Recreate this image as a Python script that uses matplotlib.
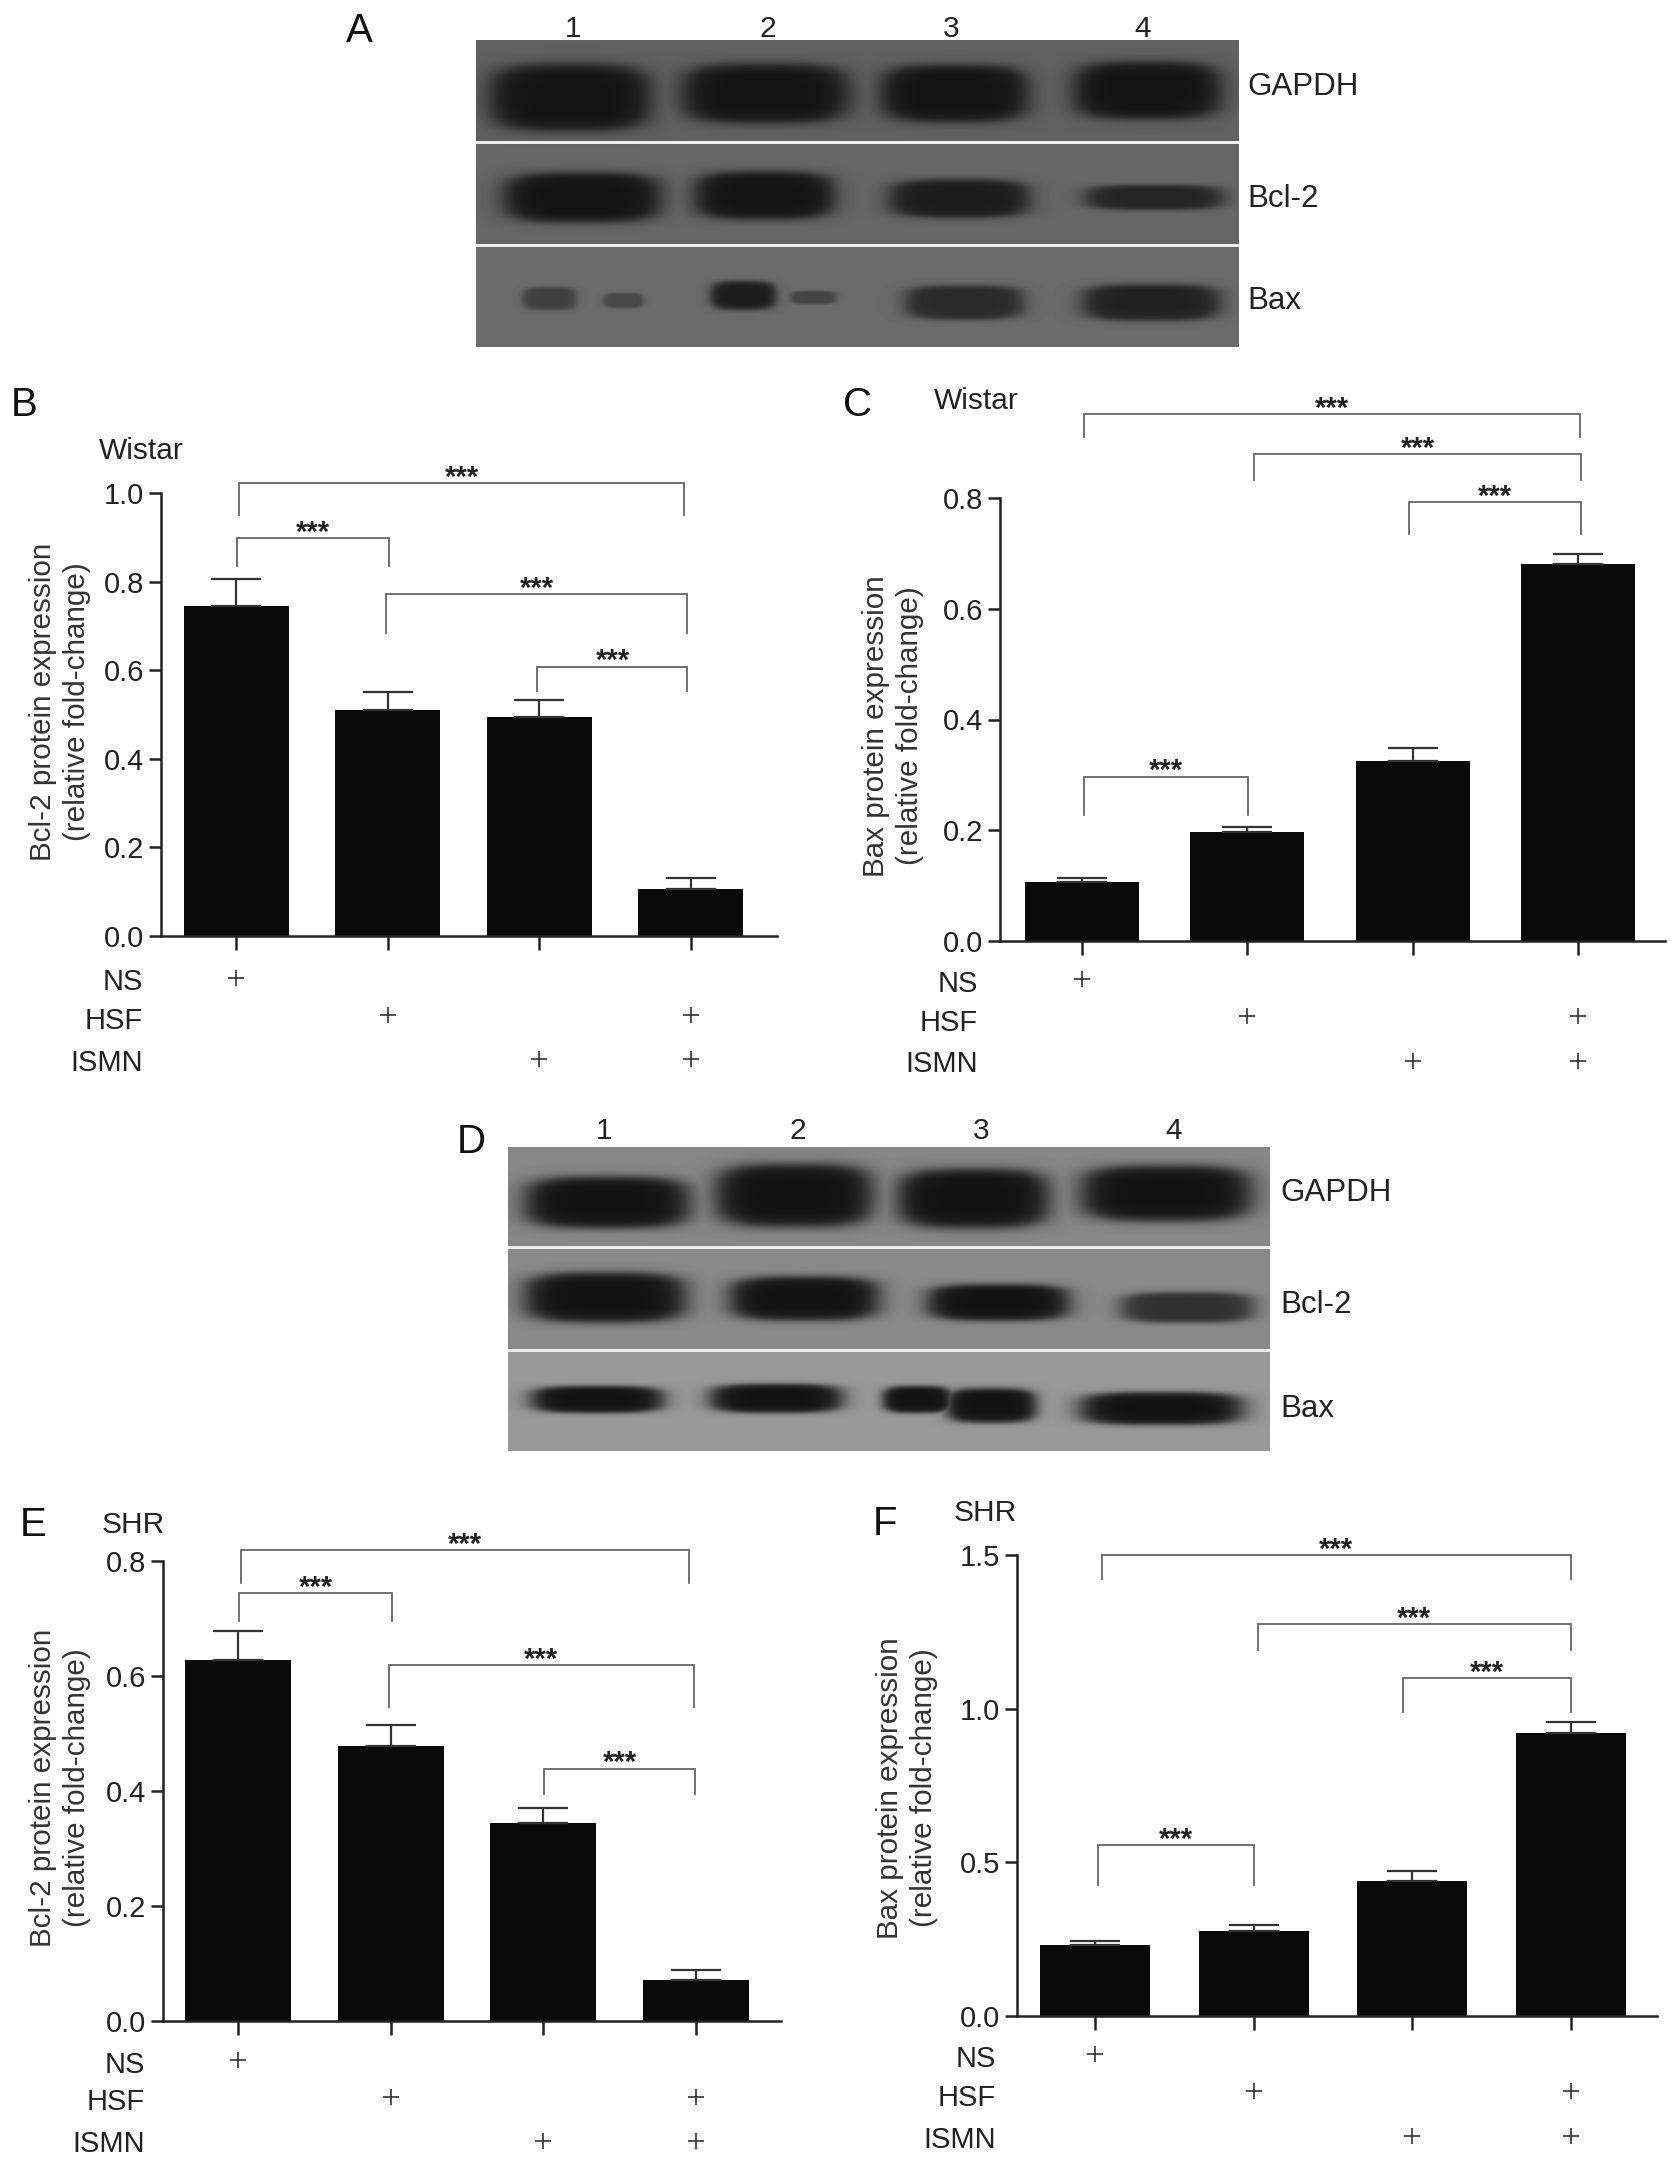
import matplotlib
matplotlib.use("Agg")
import matplotlib.pyplot as plt
import numpy as np

W = 1677
H = 2166

plt.rcParams["font.family"] = ["Liberation Sans", "DejaVu Sans"]

# bar values and top of the error bars
b_vals = [0.745, 0.51, 0.495, 0.105]
b_tops = [0.805, 0.55, 0.533, 0.13]
c_vals = [0.106, 0.196, 0.325, 0.68]
c_tops = [0.113, 0.205, 0.349, 0.698]
e_vals = [0.628, 0.479, 0.345, 0.071]
e_tops = [0.678, 0.515, 0.370, 0.088]
f_vals = [0.231, 0.278, 0.438, 0.922]
f_tops = [0.245, 0.296, 0.471, 0.956]

# significance brackets: x start, x end, y of the line, y of the leg ends
b_brackets = [(0.02, 2.96, 1.023, 0.950), (0.007, 1.01, 0.898, 0.835),
              (0.993, 2.98, 0.772, 0.683), (1.99, 2.98, 0.608, 0.552)]
c_brackets = [(0.016, 3.01, 0.951, 0.910), (1.045, 3.02, 0.880, 0.833),
              (1.98, 3.02, 0.793, 0.735), (0.016, 1.005, 0.297, 0.227)]
e_brackets = [(0.02, 2.953, 0.819, 0.762), (0.007, 1.008, 0.744, 0.695),
              (0.991, 2.983, 0.619, 0.546), (2.005, 2.996, 0.439, 0.394)]
f_brackets = [(0.043, 3.0, 1.499, 1.422), (1.03, 3.0, 1.275, 1.19),
              (1.943, 3.0, 1.10, 0.988), (0.017, 1.003, 0.556, 0.425)]

row_names = ["NS", "HSF", "ISMN"]
row_flags = [[1, 0, 0, 0], [0, 1, 0, 1], [0, 0, 1, 1]]
lanes = ["1", "2", "3", "4"]
blot_names = ["GAPDH", "Bcl-2", "Bax"]

# blot bands: centre x, centre y, half width, half height, darkness (figure pixels)
a_bands = [(570, 97, 84, 35, 1), (765, 93, 87, 31, 1), (954, 93, 77, 30, 1), (1147, 90, 77, 30, 1),
           (582, 197, 82, 26, 1), (764, 195, 73, 25, 1), (959, 198, 73, 20, 0.9), (1154, 197, 72, 13, 0.8),
           (549, 298, 28, 12, 0.5), (623, 300, 21, 8, 0.4), (743, 295, 34, 15, 0.9), (813, 297, 24, 7, 0.45),
           (964, 302, 62, 18, 0.75), (1151, 302, 72, 19, 0.85)]
d_bands = [(607, 1202, 86, 27, 1), (794, 1195, 82, 33, 1), (973, 1198, 79, 31, 1), (1166, 1193, 89, 29, 1),
           (605, 1297, 84, 26, 1), (804, 1298, 78, 23, 1), (998, 1302, 74, 19, 1), (1187, 1307, 69, 16, 0.75),
           (597, 1399, 69, 14, 1), (776, 1398, 69, 15, 1), (917, 1399, 36, 14, 1), (991, 1405, 47, 18, 1),
           (1161, 1408, 85, 17, 1)]


def px_text(x, y, s, **kw):
    fig.text(x / W, 1 - y / H, s, **kw)


def draw_blot(left, right, top, seps, bottom, bands, bgs):
    ax = fig.add_axes([left / W, 1 - bottom / H, (right - left) / W, (bottom - top) / H])
    xx, yy = np.meshgrid(np.arange(left, right), np.arange(top, bottom))
    img = np.full(xx.shape, bgs[0], dtype=float)
    img[yy >= seps[0]] = bgs[1]
    img[yy >= seps[1]] = bgs[2]
    dark = np.zeros(xx.shape)
    for cx, cy, hw, hh, k in bands:
        d = (np.abs((xx - cx) / hw) ** 3.5 + np.abs((yy - cy) / hh) ** 3.5) ** (1 / 3.5)
        dark = np.maximum(dark, k / (1 + np.exp((d - 0.95) * 11)))
    img = img + (0.08 - img) * dark
    for s in seps:
        img[np.abs(yy - s) <= 1.5] = 0.93
    ax.imshow(img, cmap="gray", vmin=0, vmax=1, aspect="auto")
    ax.axis("off")


def draw_panel(vals, tops, brackets, ymax, yticks, left, right, top, bottom, c0, step, barw, rows, marks, label_x):
    ax = fig.add_axes([left / W, 1 - bottom / H, (right - left) / W, (bottom - top) / H])
    x = np.arange(4)
    err = np.array(tops) - np.array(vals)
    ax.bar(x, vals, width=barw / step, color="#0a0a0a")
    ax.errorbar(x, vals, yerr=[np.zeros(4), err], fmt="none", ecolor="#333333",
                elinewidth=1.6, capsize=18, capthick=1.6)
    ax.set_xlim((left - c0) / step, (right - c0) / step)
    ax.set_ylim(0, ymax)
    ax.set_yticks(yticks)
    ax.set_yticklabels(["%.1f" % t for t in yticks], fontsize=21, color="#222222")
    ax.set_xticks(x)
    ax.set_xticklabels([])
    ax.tick_params(axis="y", length=9, width=1.8, color="#222222", pad=3)
    ax.tick_params(axis="x", length=10, width=1.8, color="#222222")
    ax.spines["top"].set_visible(False)
    ax.spines["right"].set_visible(False)
    ax.spines["left"].set_linewidth(1.8)
    ax.spines["bottom"].set_linewidth(1.8)
    ax.spines["left"].set_color("#222222")
    ax.spines["bottom"].set_color("#222222")

    for x1, x2, y, leg in brackets:
        ax.plot([x1, x1, x2, x2], [leg, y, y, leg], color="#666666", lw=1.3, clip_on=False,
                solid_joinstyle="miter")
        ax.annotate("***", xy=((x1 + x2) / 2, y), xytext=(0, -2), textcoords="offset points",
                    ha="center", va="baseline", fontsize=21, fontweight="bold", color="#222222",
                    annotation_clip=False)

    for i in range(3):
        px_text(label_x, bottom + rows[i], row_names[i], fontsize=21, ha="right", va="center", color="#222222")
        for j in range(4):
            if row_flags[i][j]:
                ax.plot([j], [-marks[i] / (bottom - top) * ymax], marker="+", ms=12, mew=1.2,
                        color="#333333", clip_on=False)


fig = plt.figure(figsize=(W / 100, H / 100), dpi=100, facecolor="white")

draw_blot(476, 1239, 40, [142, 245], 347, a_bands, [0.38, 0.40, 0.42])
draw_blot(508, 1270, 1147, [1247, 1350], 1451, d_bands, [0.53, 0.54, 0.60])

draw_panel(b_vals, b_tops, b_brackets, 1.0, [0, 0.2, 0.4, 0.6, 0.8, 1.0],
           161, 777, 493, 936, 236, 151.5, 105, [46, 85, 127], [42, 79, 123], 143)
draw_panel(c_vals, c_tops, c_brackets, 0.8, [0, 0.2, 0.4, 0.6, 0.8],
           1000, 1665, 498, 941, 1081.5, 165.5, 114, [43, 82, 123], [38, 75, 120], 978)
draw_panel(e_vals, e_tops, e_brackets, 0.8, [0, 0.2, 0.4, 0.6, 0.8],
           163, 781, 1561, 2021, 238, 152.7, 106, [44, 81, 123], [39, 76, 120], 145)
draw_panel(f_vals, f_tops, f_brackets, 1.5, [0, 0.5, 1.0, 1.5],
           1017, 1657, 1555, 2016, 1095, 158.5, 110, [43, 82, 124], [38, 75, 120], 996)

# panel letters
for s, x, y in [("A", 359, 31), ("B", 24, 405), ("C", 858, 405), ("D", 471, 1142), ("E", 33, 1525), ("F", 885, 1524)]:
    px_text(x, y, s, fontsize=29, ha="center", va="center", color="#111111")

# group names
for s, x, y in [("Wistar", 141, 451), ("Wistar", 976, 401), ("SHR", 133, 1525), ("SHR", 985, 1513)]:
    px_text(x, y, s, fontsize=21.5, ha="center", va="center", color="#222222")

# y axis titles
for s, x, y in [("Bcl-2 protein expression\n(relative fold-change)", 60, 702),
                ("Bax protein expression\n(relative fold-change)", 893, 726),
                ("Bcl-2 protein expression\n(relative fold-change)", 60, 1788),
                ("Bax protein expression\n(relative fold-change)", 907, 1788)]:
    px_text(x, y, s, fontsize=21.3, rotation=90, ha="center", va="center", ma="center",
            linespacing=1.25, color="#333333")

# lane numbers and blot names
for s, x in zip(lanes, [573, 768, 951, 1143]):
    px_text(x, 29, s, fontsize=21.5, ha="center", va="center", color="#222222")
for s, x in zip(lanes, [604, 798, 981, 1174]):
    px_text(x, 1131, s, fontsize=21.5, ha="center", va="center", color="#222222")
for s, y in zip(blot_names, [87, 199, 301]):
    px_text(1247, y, s, fontsize=22.5, ha="left", va="center", color="#222222")
for s, y in zip(blot_names, [1193, 1305, 1409]):
    px_text(1280, y, s, fontsize=22.5, ha="left", va="center", color="#222222")

plt.savefig("out.png", dpi=100)
